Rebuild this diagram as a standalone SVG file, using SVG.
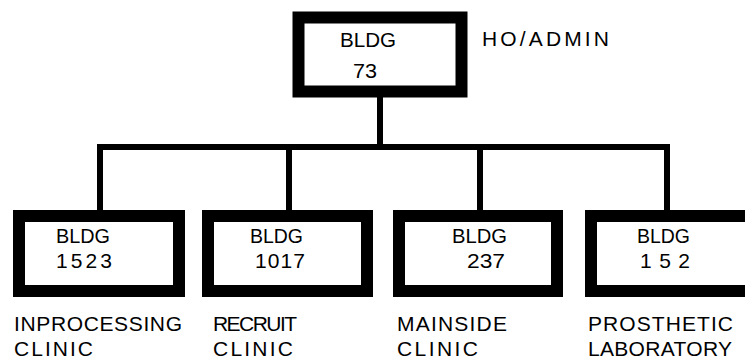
<svg xmlns="http://www.w3.org/2000/svg" width="745" height="360" viewBox="0 0 745 360">
<style>
.box{fill:#fff;stroke:#000;stroke-width:12}
.t{font-family:"Liberation Sans",Arial,sans-serif;font-size:21px;fill:#000}
.c{fill:none;stroke:#000;stroke-width:6;stroke-linecap:butt}
</style>
<rect width="745" height="360" fill="#fff"/>
<g id="connectors">
<line class="c" x1="380" y1="96" x2="380" y2="147"/>
<line class="c" x1="97" y1="147" x2="670" y2="147"/>
<line class="c" x1="100" y1="147" x2="100" y2="211"/>
<line class="c" x1="289" y1="147" x2="289" y2="211"/>
<line class="c" x1="480" y1="147" x2="480" y2="211"/>
<line class="c" x1="667" y1="147" x2="667" y2="211"/>
</g>
<g id="bldg73">
<rect class="box" x="298.5" y="17.5" width="163" height="74" stroke-width="11"/>
<text class="t" x="340" y="47" textLength="56" lengthAdjust="spacingAndGlyphs">BLDG</text>
<text class="t" x="353" y="78" textLength="24" lengthAdjust="spacingAndGlyphs">73</text>
<text class="t" x="482" y="46" textLength="127" lengthAdjust="spacing">HO/ADMIN</text>
</g>
<g id="bldg1523">
<rect class="box" x="19" y="216" width="160" height="75"/>
<text class="t" x="56" y="243" textLength="54" lengthAdjust="spacingAndGlyphs">BLDG</text>
<text class="t" x="56" y="268" textLength="56" lengthAdjust="spacing">1523</text>
<text class="t" x="14" y="331" textLength="168" lengthAdjust="spacing">INPROCESSING</text>
<text class="t" x="14" y="356" textLength="79" lengthAdjust="spacing">CLINIC</text>
</g>
<g id="bldg1017">
<rect class="box" x="208" y="216" width="159" height="75"/>
<text class="t" x="250" y="243" textLength="53" lengthAdjust="spacingAndGlyphs">BLDG</text>
<text class="t" x="255" y="268" textLength="50" lengthAdjust="spacing">1017</text>
<text class="t" x="213" y="331" textLength="84" lengthAdjust="spacing">RECRUIT</text>
<text class="t" x="213" y="356" textLength="80" lengthAdjust="spacing">CLINIC</text>
</g>
<g id="bldg237">
<rect class="box" x="399" y="216" width="158" height="75"/>
<text class="t" x="452" y="243" textLength="55" lengthAdjust="spacingAndGlyphs">BLDG</text>
<text class="t" x="467" y="268" textLength="38" lengthAdjust="spacingAndGlyphs">237</text>
<text class="t" x="397" y="331" textLength="110" lengthAdjust="spacing">MAINSIDE</text>
<text class="t" x="397" y="356" textLength="81" lengthAdjust="spacing">CLINIC</text>
</g>
<g id="bldg152">
<rect class="box" x="591" y="216" width="170" height="75"/>
<text class="t" x="637" y="243" textLength="53" lengthAdjust="spacingAndGlyphs">BLDG</text>
<text class="t" x="640" y="268" textLength="50" lengthAdjust="spacing">152</text>
<text class="t" x="588" y="331" textLength="145" lengthAdjust="spacing">PROSTHETIC</text>
<text class="t" x="588" y="356" textLength="144" lengthAdjust="spacing">LABORATORY</text>
</g>
</svg>
